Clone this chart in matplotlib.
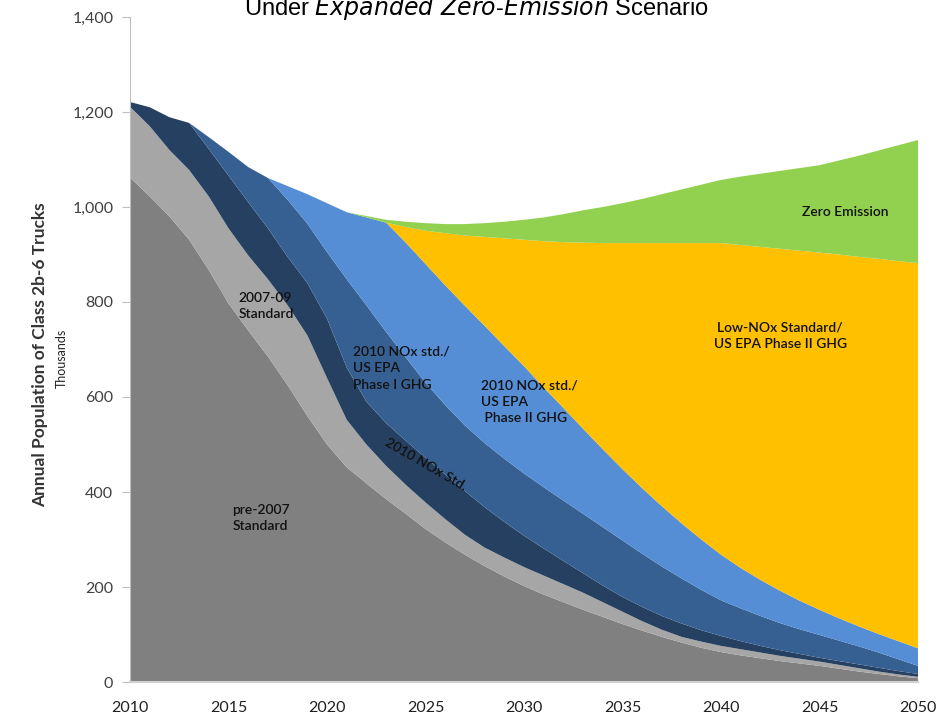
import matplotlib
matplotlib.use("Agg")
import matplotlib.pyplot as plt
from matplotlib.ticker import FuncFormatter, MultipleLocator

# years on the x axis
years = list(range(2010, 2051))

# population by emission standard, thousands of trucks
pre2007 = [1062, 1022, 980, 931, 867, 797, 740, 685, 625, 560,
           500, 452, 418, 385, 354, 322, 294, 268, 244, 222,
           202, 184, 168, 152, 137, 122, 108, 95, 83, 72,
           63, 56, 50, 44, 39, 34, 28, 22, 17, 12, 8]
std2007_09 = [149, 148, 140, 147, 155, 158, 158, 163, 168, 170,
              140, 100, 82, 70, 61, 56, 49, 42, 39, 40,
              40, 40, 38, 36, 31, 26, 20, 15, 12, 13,
              13, 13, 12, 11, 10, 9, 8, 7, 5, 4, 3]
nox2010 = [10, 40, 69, 99, 100, 111, 112, 107, 102, 110,
           125, 110, 90, 90, 93, 94, 94, 92, 85, 75,
           66, 57, 49, 41, 35, 31, 30, 29, 28, 24,
           21, 17, 14, 12, 10, 8, 8, 8, 8, 7, 6]
ghg_phase1 = [0, 0, 0, 0, 25, 50, 74, 106, 120, 125,
              140, 186, 203, 192, 175, 158, 146, 138, 135, 133,
              131, 129, 127, 125, 123, 119, 112, 104, 95, 85,
              75, 69, 63, 57, 52, 48, 43, 38, 32, 25, 17]
ghg_phase2 = [0, 0, 0, 0, 0, 0, 0, 0, 29, 62,
              103, 141, 185, 230, 242, 250, 252, 252, 247, 237,
              226, 210, 195, 179, 164, 150, 138, 127, 116, 106,
              96, 85, 76, 68, 60, 53, 47, 42, 39, 38, 37]
low_nox = [0, 0, 0, 0, 0, 0, 0, 0, 0, 0,
           0, 0, 0, 0, 33, 70, 110, 148, 187, 227,
           266, 308, 349, 392, 434, 476, 516, 554, 590, 624,
           656, 680, 701, 720, 737, 752, 766, 778, 790, 800, 811]
zero_emission = [0, 0, 0, 0, 0, 0, 0, 0, 0, 0,
                 0, 0, 3, 6, 11, 16, 19, 24, 29, 35,
                 42, 50, 59, 68, 76, 84, 93, 103, 113, 123,
                 133, 144, 154, 164, 174, 184, 198, 213, 228, 244, 259]

colors = ["#808080", "#A6A6A6", "#254061", "#376092",
          "#558ED5", "#FFC000", "#92D050"]

font = ["Lato", "DejaVu Sans"]

fig = plt.figure(figsize=(9.43, 7.23), dpi=100)
ax = fig.add_axes([0.1379, 0.0567, 0.8356, 0.9198])

ax.stackplot(years, pre2007, std2007_09, nox2010, ghg_phase1,
             ghg_phase2, low_nox, zero_emission, colors=colors,
             linewidth=0)

ax.set_xlim(2010, 2050)
ax.set_ylim(0, 1400)
ax.xaxis.set_major_locator(MultipleLocator(5))
ax.yaxis.set_major_locator(MultipleLocator(200))
ax.yaxis.set_major_formatter(FuncFormatter(lambda v, p: f"{int(v):,}"))

for s in ["top", "right"]:
    ax.spines[s].set_visible(False)
ax.spines["left"].set_color("#BFBFBF")
ax.spines["bottom"].set_color("#D0D0D0")
ax.spines["bottom"].set_linewidth(1.5)
ax.tick_params(axis="y", length=6, color="#BFBFBF", labelsize=11.5,
               labelcolor="#404040", pad=6)
ax.tick_params(axis="x", length=0, labelsize=11.5, labelcolor="#202020", pad=14)
for lbl in ax.get_xticklabels() + ax.get_yticklabels():
    lbl.set_family(font)

fig.text(0.042, 0.51, "Annual Population of Class 2b-6 Trucks", rotation=90,
         ha="center", va="center", fontsize=12.5, fontweight="bold",
         color="#333333", family=font)
fig.text(0.066, 0.505, "Thousands", rotation=90, ha="center", va="center",
         fontsize=9, color="#222222", family=font)

# title, cut off at the top edge as in the original
fig.text(0.505, 0.989, "Under $\\it{Expanded\\ Zero}$-$\\it{Emission}$ Scenario",
         ha="center", va="center", fontsize=17, family="Liberation Sans")

kw = dict(fontsize=10, color="#111111", family=font, linespacing=1.45,
          fontweight="semibold")
ax.text(2015.2, 345, "pre-2007\nStandard", ha="left", va="center", **kw)
ax.text(2015.5, 792, "2007-09\nStandard", ha="left", va="center", **kw)
ax.text(2021.3, 660, "2010 NOx std./\nUS EPA\nPhase I GHG", ha="left",
        va="center", **kw)
ax.text(2025.0, 458, "2010 NOx Std.", ha="center", va="center",
        rotation=-30, **kw)
ax.text(2027.8, 590, "2010 NOx std./\nUS EPA\n Phase II GHG", ha="left",
        va="center", **kw)
ax.text(2043.0, 728, "Low-NOx Standard/\nUS EPA Phase II GHG", ha="center",
        va="center", **kw)
ax.text(2046.3, 990, "Zero Emission", ha="center", va="center", **kw)

fig.savefig("out.png", dpi=100)
